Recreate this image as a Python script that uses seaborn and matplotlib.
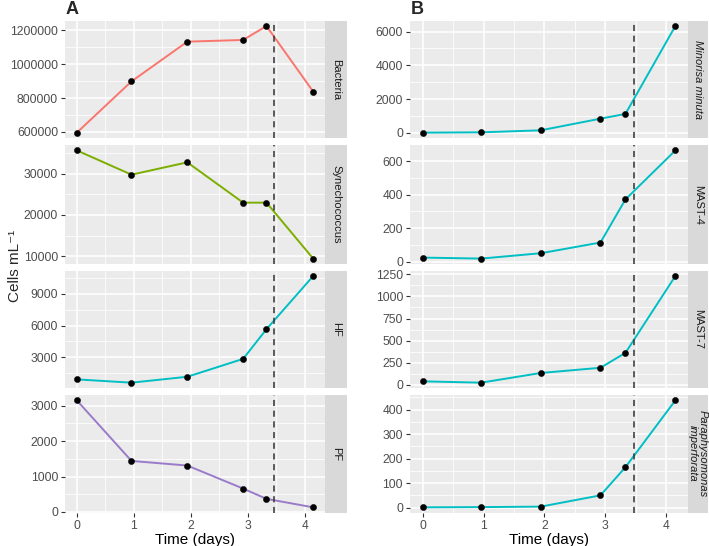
import matplotlib
matplotlib.use("Agg")
import matplotlib.pyplot as plt
from matplotlib.ticker import MultipleLocator, ScalarFormatter
import numpy as np
import pandas as pd
import seaborn as sns

# ---------------- data ----------------
time_days = [0, 0.96, 1.94, 2.92, 3.33, 4.15]
cutoff_day = 3.47

bacteria = [596000, 898000, 1132000, 1142000, 1224000, 838000]
synechococcus = [35700, 29800, 32800, 23000, 23000, 9400]
hf = [910, 600, 1160, 2850, 5660, 10690]
pf = [3150, 1440, 1310, 660, 370, 130]

minorisa = [10, 30, 150, 840, 1120, 6330]
mast4 = [24, 18, 50, 114, 371, 664]
mast7 = [37, 22, 132, 191, 360, 1232]
paraphyso = [1, 2, 4, 50, 165, 438]

panel_a_names = ["Bacteria", "Synechococcus", "HF", "PF"]
panel_b_names = ["Minorisa minuta", "MAST-4", "MAST-7", "Paraphysomonas\nimperforata"]
panel_a_values = [bacteria, synechococcus, hf, pf]
panel_b_values = [minorisa, mast4, mast7, paraphyso]
panel_a_steps = [200000, 10000, 3000, 1000]
panel_b_steps = [2000, 200, 250, 100]
panel_a_colors = ["#F8766D", "#7CAE00", "#00BFC4", "#9A7BC9"]
panel_b_colors = ["#00BFC4"] * 4

# ---------------- layout ----------------
W, H = 709, 546
sns.set_theme(style="white")
plt.rcParams["font.family"] = ["Liberation Sans", "DejaVu Sans"]
fig = plt.figure(figsize=(W / 100, H / 100), dpi=100)

rows = [(20.7, 138), (145, 264), (270.7, 388), (395, 512.7)]
cols = {"A": (65, 325, 347), "B": (410, 688, 708)}

PANEL_BG = "#EBEBEB"
STRIP_BG = "#D9D9D9"


def make_axes(x0, x1, y0, y1):
    return fig.add_axes([x0 / W, 1 - y1 / H, (x1 - x0) / W, (y1 - y0) / H])


def draw_column(key, names, values, steps, colors, italic):
    x0, x1, xs = cols[key]
    for i, (name, vals, step, col) in enumerate(zip(names, values, steps, colors)):
        y0, y1 = rows[i]
        ax = make_axes(x0, x1, y0, y1)
        df = pd.DataFrame({"time": time_days, "cells": vals})
        ax.set_facecolor(PANEL_BG)
        for s in ax.spines.values():
            s.set_visible(False)
        ax.yaxis.set_major_locator(MultipleLocator(step))
        ax.yaxis.set_minor_locator(MultipleLocator(step / 2))
        ax.xaxis.set_major_locator(MultipleLocator(1))
        ax.xaxis.set_minor_locator(MultipleLocator(0.5))
        ax.grid(which="major", color="white", lw=1.1, zorder=0)
        ax.grid(which="minor", color="white", lw=0.55, zorder=0)
        ax.set_axisbelow(True)
        sns.lineplot(data=df, x="time", y="cells", color=col, lw=1.4, ax=ax,
                     zorder=3, legend=False)
        sns.scatterplot(data=df, x="time", y="cells", color="black", s=20,
                        edgecolor="black", linewidth=0.3, ax=ax, zorder=4, legend=False)
        ax.axvline(cutoff_day, color="#333333", lw=1.1, ls=(0, (4, 3)), zorder=5)
        xr = max(time_days) - min(time_days)
        ax.set_xlim(min(time_days) - 0.05 * xr, max(time_days) + 0.05 * xr)
        yr = max(vals) - min(vals)
        ax.set_ylim(min(vals) - 0.05 * yr, max(vals) + 0.05 * yr)
        fmt = ScalarFormatter(useOffset=False)
        fmt.set_scientific(False)
        ax.yaxis.set_major_formatter(fmt)
        ax.tick_params(axis="y", which="major", length=3, width=0.8, color="#333333",
                       labelsize=8.7, labelcolor="#4D4D4D", pad=2, left=True)
        ax.tick_params(axis="both", which="minor", length=0)
        ax.set_ylabel("")
        ax.set_xlabel("")
        if i < 3:
            ax.tick_params(axis="x", which="major", length=0, labelbottom=False)
        else:
            ax.tick_params(axis="x", which="major", length=3, width=0.8, color="#333333",
                           labelsize=8.7, labelcolor="#4D4D4D", pad=2, bottom=True)
            ax.set_xlabel("Time (days)", fontsize=11, color="black", labelpad=1)
        # strip
        sax = make_axes(x1, xs, y0, y1)
        sax.set_facecolor(STRIP_BG)
        sax.set_xticks([])
        sax.set_yticks([])
        for s in sax.spines.values():
            s.set_visible(False)
        sax.text(0.5, 0.5, name, rotation=-90, ha="center", va="center",
                 fontsize=8, color="#1A1A1A", style="italic" if italic[i] else "normal",
                 transform=sax.transAxes, linespacing=0.95)
    fig.text(x0 / W + 0.001, 1 - 9 / H, key, fontsize=13, fontweight="bold",
             ha="left", va="center")


draw_column("A", panel_a_names, panel_a_values, panel_a_steps, panel_a_colors,
            [False, False, False, False])
draw_column("B", panel_b_names, panel_b_values, panel_b_steps, panel_b_colors,
            [True, False, False, True])

fig.text(15 / W, 1 - 266 / H, "Cells mL\u207b\u00b9", rotation=90, ha="center",
         va="center", fontsize=11)

fig.savefig("out.png", dpi=100)
